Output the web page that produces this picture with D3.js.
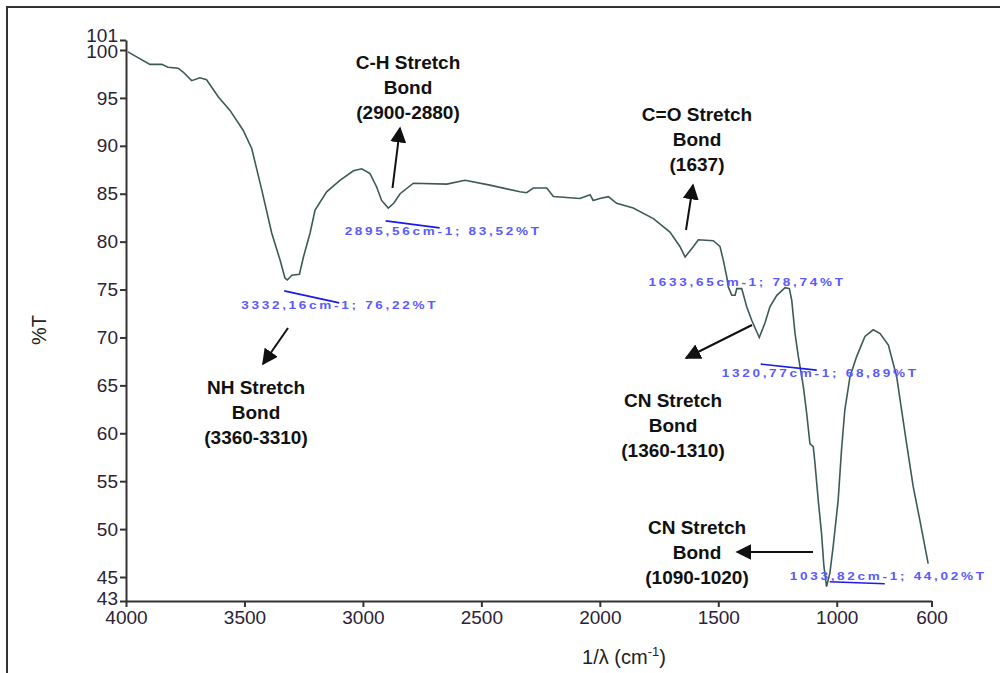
<!DOCTYPE html>
<html>
<head>
<meta charset="utf-8">
<script src="https://cdn.jsdelivr.net/npm/d3@7/dist/d3.min.js"></script>
<style>
  body { margin: 0; background: #fff; }
  svg { display: block; }
</style>
</head>
<body>
<div id="chart"></div>
<script>
// spectrum
const wavenumber = [3992, 3899, 3849, 3823, 3780, 3759, 3723, 3688, 3660, 3610, 3561, 3505, 3469, 3427, 3385,
  3350, 3329, 3319, 3300, 3268, 3251, 3223, 3202, 3153, 3097, 3040, 3005, 2970, 2942, 2921, 2893, 2870, 2843,
  2787, 2646, 2569, 2464, 2337, 2309, 2281, 2224, 2196, 2084, 2041, 2028, 2000, 1964, 1929, 1859, 1774, 1704,
  1662, 1640, 1605, 1584, 1521, 1493, 1479, 1464, 1458, 1443, 1429, 1422, 1401, 1380, 1359, 1327, 1303, 1282,
  1253, 1218, 1200, 1190, 1176, 1162, 1141, 1127, 1113, 1099, 1092, 1078, 1064, 1054, 1043, 1029, 1015, 994,
  980, 966, 944, 916, 881, 846, 817, 782, 747, 726, 705, 677, 649, 628, 614];
const transmittance = [99.8, 98.5, 98.5, 98.2, 98.1, 97.7, 96.8, 97.1, 96.9, 95.1, 93.7, 91.6, 89.7, 85.4, 80.9,
  78.1, 76.2, 76.0, 76.5, 76.6, 78.4, 80.9, 83.3, 85.2, 86.4, 87.4, 87.6, 87.1, 85.7, 84.3, 83.5, 84.0, 85.0,
  86.1, 86.0, 86.4, 85.9, 85.2, 85.1, 85.6, 85.6, 84.7, 84.5, 84.9, 84.3, 84.5, 84.7, 84.0, 83.5, 82.4, 81.0,
  79.5, 78.4, 79.5, 80.2, 80.1, 79.5, 78.1, 76.3, 75.3, 74.4, 74.4, 75.1, 75.1, 73.2, 71.8, 70.0, 71.5, 73.2,
  74.4, 75.2, 75.1, 73.9, 70.4, 68.0, 64.9, 62.1, 58.9, 58.6, 56.9, 53.0, 49.5, 46.1, 44.2, 45.4, 48.2, 53.0,
  58.2, 62.4, 65.9, 68.0, 70.1, 70.8, 70.4, 69.2, 65.9, 62.4, 58.9, 54.4, 50.9, 48.2, 46.4];

const xTicks = [4000, 3500, 3000, 2500, 2000, 1500, 1000, 600];
const yTicks = [101, 100, 95, 90, 85, 80, 75, 70, 65, 60, 55, 50, 45, 43];

// peak picks printed by the instrument
const peakWn = [3332.16, 2895.56, 1633.65, 1320.77, 1033.82];
const peakT = [76.22, 83.52, 78.74, 68.89, 44.02];
const peakText = ['3332,16cm-1; 76,22%T', '2895,56cm-1; 83,52%T', '1633,65cm-1; 78,74%T',
  '1320,77cm-1; 68,89%T', '1033,82cm-1; 44,02%T'];

// bond annotations
const bondLines = [
  ['C-H Stretch', 'Bond', '(2900-2880)'],
  ['NH Stretch', 'Bond', '(3360-3310)'],
  ['C=O Stretch', 'Bond', '(1637)'],
  ['CN Stretch', 'Bond', '(1360-1310)'],
  ['CN Stretch', 'Bond', '(1090-1020)']
];

const width = 1000, height = 673;

const svg = d3.select('#chart').append('svg')
  .attr('width', width)
  .attr('height', height);

svg.append('rect').attr('width', width).attr('height', height).attr('fill', '#fff');

// outer frame of the screenshot
svg.append('path')
  .attr('d', 'M7,673V7H1000')
  .attr('fill', 'none')
  .attr('stroke', '#333')
  .attr('stroke-width', 2);

const x = d3.scaleLinear().domain([4000, 600]).range([126, 931.5]);
// the instrument squeezes the 43 and 101 end labels a little
const y = d3.scaleLinear().domain([43, 45, 100, 101]).range([601, 577, 50, 40]);

const axisFont = '"Liberation Sans", Arial, sans-serif';

const gx = svg.append('g')
  .attr('transform', 'translate(0,601)')
  .call(d3.axisBottom(x).tickValues(xTicks).tickSize(6).tickSizeOuter(0).tickPadding(4).tickFormat(d3.format('d')));

const gy = svg.append('g')
  .attr('transform', 'translate(126,0)')
  .call(d3.axisLeft(y).tickValues(yTicks).tickSize(6).tickSizeOuter(0).tickPadding(2).tickFormat(d3.format('d')));

[gx, gy].forEach(g => {
  g.selectAll('path, line').attr('stroke', '#333').attr('stroke-width', 2);
  g.selectAll('text')
    .attr('fill', '#2a2238')
    .style('font-family', axisFont)
    .style('font-size', '19px');
});

// end labels sit a bit apart so they do not run into each other
gy.selectAll('.tick text')
  .attr('dy', d => d === 101 ? '0.1em' : d === 43 ? '0.2em' : d === 100 ? '0.4em' : '0.32em');

// axis titles
svg.append('text')
  .attr('transform', 'translate(46,330) rotate(-90)')
  .attr('text-anchor', 'middle')
  .style('font-family', axisFont)
  .style('font-size', '20px')
  .attr('fill', '#222')
  .text('%T');

const xt = svg.append('text')
  .attr('x', 624)
  .attr('y', 664)
  .attr('text-anchor', 'middle')
  .style('font-family', axisFont)
  .style('font-size', '20px')
  .attr('fill', '#222');
xt.append('tspan').text('1/λ (cm');
xt.append('tspan').attr('dy', -8).style('font-size', '13px').text('-1');
xt.append('tspan').attr('dy', 8).text(')');

// spectrum line
const pts = wavenumber.map((d, i) => [d, transmittance[i]]);
const line = d3.line().x(d => x(d[0])).y(d => y(d[1]));

svg.append('path')
  .datum(pts)
  .attr('d', line)
  .attr('fill', 'none')
  .attr('stroke', '#3d5a58')
  .attr('stroke-width', 1.6);

// peak markers: a short blue tick line and the printed value
const peakTickDx = [[0, 55], [-2, 52], null, [0, 56], [1, 56]];
const peakTickDy = [[13, 25], [13, 20], null, [16, 22], [-7, -5]];
const peakLabelDx = [-43, -43, -38, -39, -39];
const peakLabelDy = [31, 27, 32, 29, -9];

const peaks = svg.append('g');
peakWn.forEach((wn, i) => {
  let px = x(wn), py = y(peakT[i]);
  if (peakTickDx[i]) {
    peaks.append('line')
      .attr('x1', px + peakTickDx[i][0]).attr('y1', py + peakTickDy[i][0])
      .attr('x2', px + peakTickDx[i][1]).attr('y2', py + peakTickDy[i][1])
      .attr('stroke', '#1a1aee')
      .attr('stroke-width', 1.6);
  }
  peaks.append('text')
    .attr('x', px + peakLabelDx[i])
    .attr('y', py + peakLabelDy[i])
    .attr('textLength', 197)
    .attr('lengthAdjust', 'spacingAndGlyphs')
    .attr('fill', '#5a5aff')
    .style('font-family', axisFont)
    .style('font-size', '10px')
    .style('letter-spacing', '2px')
    .style('font-weight', 'bold')
    .text(peakText[i]);
});

// bond annotations with arrows
svg.append('defs').append('marker')
  .attr('id', 'head')
  .attr('viewBox', '0 0 10 10')
  .attr('refX', 9).attr('refY', 5)
  .attr('markerWidth', 16).attr('markerHeight', 16)
  .attr('markerUnits', 'userSpaceOnUse')
  .attr('orient', 'auto')
  .append('path')
  .attr('d', 'M0,0L10,5L0,10Z')
  .attr('fill', '#111');

const bondCx = [408, 256, 697, 673, 697];
const bondTop = [69, 394, 121, 407, 534];
const arrows = [
  [[392.5, 188], [400, 128]],
  [[288, 328], [263, 364]],
  [[686, 230], [693, 185]],
  [[752, 325], [686, 358]],
  [[813, 552], [737, 552]]
];

const notes = svg.append('g');
bondLines.forEach((lines, i) => {
  lines.forEach((t, j) => {
    notes.append('text')
      .attr('x', bondCx[i])
      .attr('y', bondTop[i] + j * 25)
      .attr('text-anchor', 'middle')
      .style('font-family', axisFont)
      .style('font-size', '19px')
      .style('font-weight', 'bold')
      .attr('fill', '#111')
      .text(t);
  });
  notes.append('line')
    .attr('x1', arrows[i][0][0]).attr('y1', arrows[i][0][1])
    .attr('x2', arrows[i][1][0]).attr('y2', arrows[i][1][1])
    .attr('stroke', '#111')
    .attr('stroke-width', 2)
    .attr('marker-end', 'url(#head)');
});
</script>
</body>
</html>
